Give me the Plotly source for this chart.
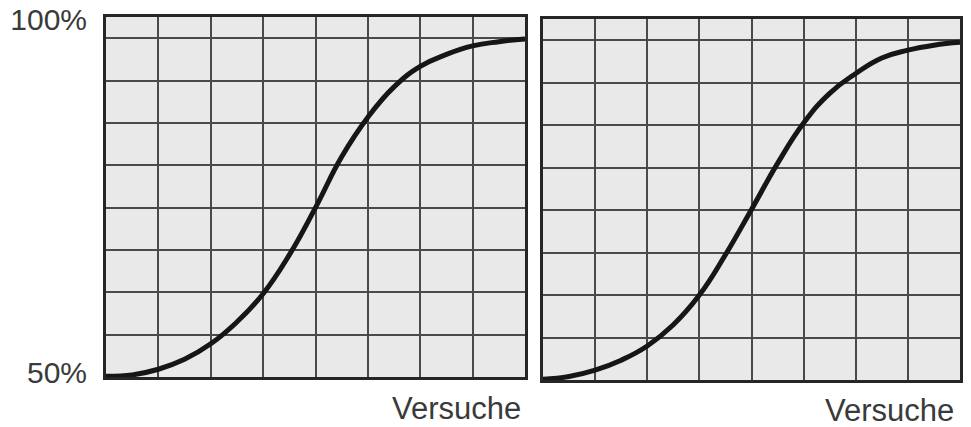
import plotly.graph_objects as go

# Trials (grid columns) and success rate (%)
trials = [0, 0.5, 1, 1.5, 2, 2.5, 3, 3.5, 4, 4.5, 5, 5.5, 6, 6.5, 7, 7.5, 8]
rate_left = [49.5, 49.7, 50.5, 51.9, 54.1, 57.2, 61.2, 66.7, 73.4, 80.6, 86.2,
             90.5, 93.4, 95.1, 96.3, 96.9, 97.3]
rate_right = [49.5, 49.9, 50.8, 52.2, 54.2, 57.2, 61.4, 67.1, 73.5, 80.0, 85.7,
              89.9, 92.7, 94.9, 96.0, 96.7, 97.1]

y_tickvals = [50, 100]
y_ticktext = ["50%", "100%"]
x_title = "Versuche"

Y_MIN = 49.4
Y_GRID = 6.0
Y_MAX = Y_MIN + 8.5 * Y_GRID

FONT = "Liberation Sans, Arial, sans-serif"
TXT = "#3a3a3a"
FRAME = "#262626"
GRIDC = "#4a4a4a"
BG = "#e9e9e9"

fig = go.Figure()
fig.add_trace(go.Scatter(x=trials, y=rate_left, mode="lines",
                         line=dict(color="#161616", width=5, shape="spline", smoothing=1.3),
                         xaxis="x", yaxis="y", showlegend=False, hoverinfo="skip"))
fig.add_trace(go.Scatter(x=trials, y=rate_right, mode="lines",
                         line=dict(color="#161616", width=5, shape="spline", smoothing=1.3),
                         xaxis="x2", yaxis="y2", showlegend=False, hoverinfo="skip"))

W, H = 971, 427

def xax(dom, anchor):
    return dict(domain=dom, range=[0, 8], dtick=1, tick0=0, showgrid=True, anchor=anchor,
                gridcolor=GRIDC, gridwidth=1.5, showticklabels=False, ticks="",
                zeroline=False, showline=True, mirror=True, linecolor=FRAME, linewidth=3,
                automargin=False, fixedrange=True)

def yax(dom, labels, anchor):
    return dict(domain=dom, range=[Y_MIN, Y_MAX], anchor=anchor,
                tickmode="array", tickvals=y_tickvals, ticktext=y_ticktext,
                showticklabels=labels, ticks="", showgrid=False, zeroline=False,
                showline=True, mirror=True, linecolor=FRAME, linewidth=3,
                tickfont=dict(family=FONT, size=30, color=TXT),
                ticklabelstandoff=10, automargin=False,
                minor=dict(tickmode="linear", tick0=Y_MIN, dtick=Y_GRID, showgrid=True,
                           gridcolor=GRIDC, gridwidth=1.5, ticks=""),
                fixedrange=True)

fig.update_layout(
    width=W, height=H,
    margin=dict(l=0, r=0, t=0, b=0, autoexpand=False),
    paper_bgcolor="white", plot_bgcolor=BG,
    xaxis=xax([106 / W, 525 / W], "y"),
    yaxis=yax([(H - 377) / H, (H - 17) / H], True, "x"),
    xaxis2=xax([543 / W, 960 / W], "y2"),
    yaxis2=yax([(H - 380) / H, (H - 19) / H], False, "x2"),
    annotations=[
        dict(text=x_title, xref="paper", yref="paper", x=523 / W, y=(H - 408) / H,
             xanchor="right", yanchor="middle", showarrow=False,
             font=dict(family=FONT, size=31, color=TXT)),
        dict(text=x_title, xref="paper", yref="paper", x=956 / W, y=(H - 410) / H,
             xanchor="right", yanchor="middle", showarrow=False,
             font=dict(family=FONT, size=31, color=TXT)),
    ],
)

fig.write_html("out.html", config={"displayModeBar": False},
               post_script="document.body.style.margin='0';document.body.style.overflow='hidden';")
